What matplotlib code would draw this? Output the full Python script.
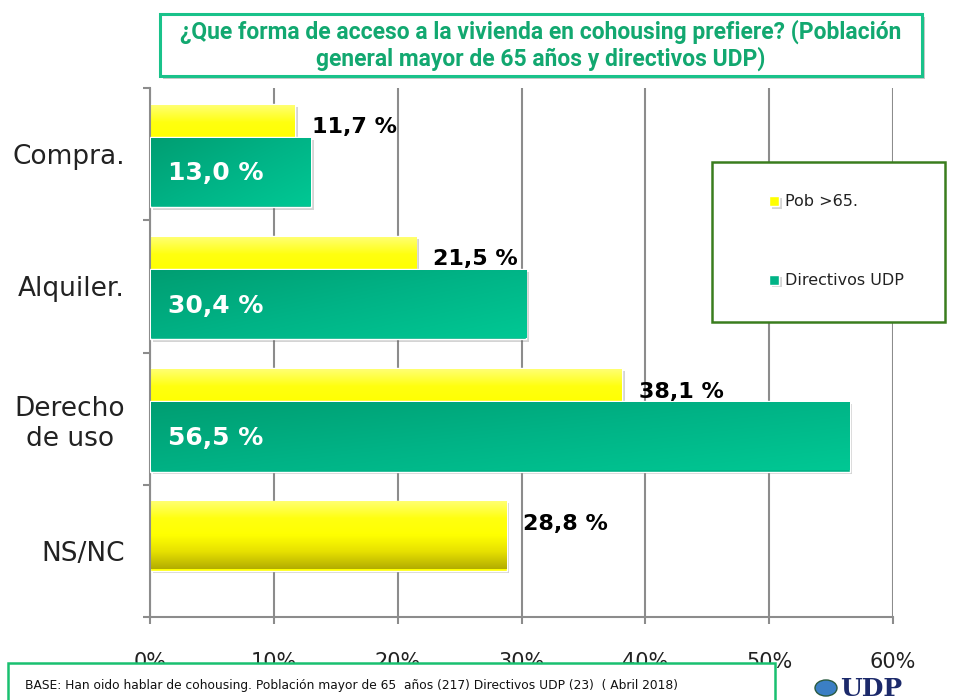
import numpy as np
import matplotlib
matplotlib.use("Agg")
import matplotlib.pyplot as plt
from matplotlib.patches import Rectangle, Circle
import matplotlib.patheffects as pe
from matplotlib.colors import LinearSegmentedColormap

categories = ["Compra.", "Alquiler.", "Derecho\nde uso", "NS/NC"]
pob65 = [11.7, 21.5, 38.1, 28.8]
directivos = [13.0, 30.4, 56.5, None]
series_names = ["Pob >65.", "Directivos UDP"]
xticks = [0, 10, 20, 30, 40, 50, 60]
title = "¿Que forma de acceso a la vivienda en cohousing prefiere? (Población\ngeneral mayor de 65 años y directivos UDP)"
footer = "BASE: Han oido hablar de cohousing. Población mayor de 65  años (217) Directivos UDP (23)  ( Abril 2018)"

def fmt(v):
    return f"{v:.1f}".replace(".", ",") + " %"

fig = plt.figure(figsize=(9.6, 7.0), dpi=100)
W, H = 960, 700
ax = fig.add_axes([150 / W, 1 - 617 / H, 743 / W, 529 / H])

y = np.arange(len(categories))
h = 0.53
off_y, off_g = -0.115, 0.135
gray = "#8c8c8c"

shadow = [pe.SimplePatchShadow(offset=(2, -2), alpha=0.25, shadow_rgbFace="#555555"), pe.Normal()]

ybars = ax.barh(y + off_y, pob65, height=h, color="#ffff00", edgecolor="white",
                linewidth=1.0, zorder=2, label=series_names[0])
gy = [i for i, v in enumerate(directivos) if v is not None]
gbars = ax.barh(y[gy] + off_g, [directivos[i] for i in gy], height=h, color="#00b386",
                edgecolor="white", linewidth=1.0, zorder=3, label=series_names[1])

cm_y = LinearSegmentedColormap.from_list("yy", ["#ffff70", "#ffff10", "#ffff00", "#e6e000", "#b3ad00"])
cm_g = LinearSegmentedColormap.from_list("gg", ["#009e72", "#00b386", "#00c894"])

for bars, kind, z in [(ybars, "y", 2.1), (gbars, "g", 3.1)]:
    for p in bars:
        p.set_path_effects(shadow)
        x0, yy0 = p.get_x(), p.get_y()
        x1, yy1 = x0 + p.get_width(), yy0 + p.get_height()
        if kind == "y":
            arr = np.linspace(0, 1, 100)[:, None] * np.ones((1, 10))
            cmap = cm_y
        else:
            gx = np.linspace(0, 1, 200)[None, :]
            gyv = np.linspace(0, 1, 60)[:, None]
            arr = 0.55 * gx + 0.45 * gyv
            cmap = cm_g
        im = ax.imshow(arr, extent=(x0 + 0.05, x1 - 0.05, yy1 - 0.01, yy0 + 0.01), origin="upper",
                       aspect="auto", cmap=cmap, vmin=0, vmax=1, zorder=z, interpolation="bilinear")
        im.set_clip_path(p)

# value labels
for i, v in enumerate(pob65):
    ax.text(v + 1.35, y[i] + off_y - 0.09, fmt(v), ha="left", va="center",
            fontsize=16, fontweight="bold", color="black", zorder=5)
for i in gy:
    ax.text(1.45, y[i] + off_g + 0.01, fmt(directivos[i]), ha="left", va="center",
            fontsize=18, fontweight="bold", color="white", zorder=5)

ax.set_xlim(0, 60)
ax.set_ylim(len(categories) - 0.5, -0.5)
ax.set_xticks(xticks)
ax.set_xticklabels([f"{t}%" for t in xticks], fontsize=15, color="#222222")
ax.set_yticks(y)
ax.set_yticklabels(categories, fontsize=19, color="#222222", ha="right", multialignment="center")
ax.set_yticks(np.arange(-0.5, len(categories), 1), minor=True)
ax.tick_params(axis="y", which="major", length=0, pad=18)
ax.tick_params(axis="y", which="minor", length=5, width=1.5, color=gray, direction="out")
ax.tick_params(axis="x", which="major", length=5, width=1.5, color=gray, pad=20)
ax.grid(axis="x", color=gray, linewidth=1.5, zorder=0.5)
ax.set_axisbelow(True)
for s in ["top", "right"]:
    ax.spines[s].set_visible(False)
for s in ["left", "bottom"]:
    ax.spines[s].set_color(gray)
    ax.spines[s].set_linewidth(1.5)

# legend
leg_rect = Rectangle((712 / W, 1 - 322 / H), 233 / W, 160 / H, transform=fig.transFigure,
                     facecolor="white", edgecolor="#3a7d1e", linewidth=1.8, zorder=6)
fig.add_artist(leg_rect)
leg = fig.legend(handles=[ybars, gbars], labels=series_names, loc="upper left",
                 bbox_to_anchor=(755 / W, 1 - 180 / H), frameon=False, fontsize=11.5,
                 handlelength=0.6, handleheight=0.6, handletextpad=0.4, labelspacing=4.0,
                 labelcolor="#222222")
leg.set_zorder(7)

# title box
trect = Rectangle((160 / W, 1 - 76 / H), 762 / W, 62 / H, transform=fig.transFigure,
                  facecolor="white", edgecolor="#19c28a", linewidth=2.2, zorder=6,
                  path_effects=[pe.SimplePatchShadow(offset=(2, -2), alpha=0.3), pe.Normal()])
fig.add_artist(trect)
fig.text(541 / W, 1 - 45 / H, title, ha="center", va="center", fontsize=16.5,
         fontweight="bold", color="#12a870", family="Roboto", linespacing=1.12, zorder=7)

# footer box
frect = Rectangle((8 / W, -5 / H), 767 / W, 42 / H, transform=fig.transFigure,
                  facecolor="white", edgecolor="#19c070", linewidth=1.8, zorder=6)
fig.add_artist(frect)
fig.text(25 / W, 1 - 686 / H, footer, ha="left", va="center", fontsize=8.8,
         color="#111111", zorder=7)

# UDP logo
fig.add_artist(Circle((826 / W, 1 - 688 / H), 11 / W, transform=fig.transFigure,
                      facecolor="#3b7fc4", edgecolor="#2a5a40", linewidth=1, zorder=7))
fig.text(840 / W, 1 - 689 / H, "UDP", ha="left", va="center", fontsize=18,
         fontweight="bold", family="DejaVu Serif", color="#1c2a6b", zorder=7)

fig.savefig("out.png", dpi=100)
